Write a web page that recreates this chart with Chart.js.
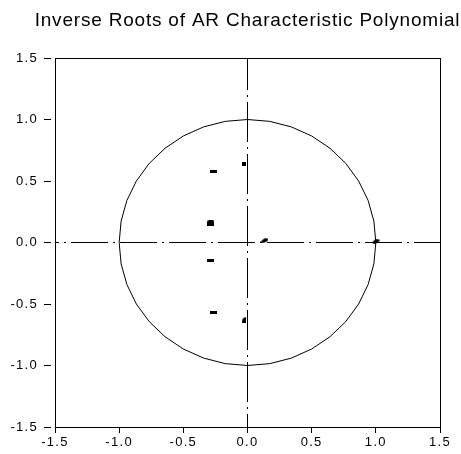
<!DOCTYPE html>
<html>
<head>
<meta charset="utf-8">
<script src="https://cdn.jsdelivr.net/npm/chart.js@4/dist/chart.umd.min.js"></script>
<style>
  html, body { margin: 0; padding: 0; background: #fff; }
  #wrap { width: 461px; height: 454px; }
</style>
</head>
<body>
<div id="wrap"><canvas id="c" width="461" height="454"></canvas></div>
<script>
// Inverse roots (real and imaginary parts)
const rootsRe = [0.999, 0.132, -0.031, -0.031, -0.265, -0.265, -0.285, -0.285];
const rootsIm = [0.010, 0.016, 0.640, -0.630, 0.575, -0.572, 0.162, -0.150];
const markerKind = ['arrow', 'arrow', 'dot', 'half', 'bar', 'bar', 'dome', 'bar'];

// Axis ticks
const axisMin = -1.5;
const axisMax = 1.5;
const tickStep = 0.5;

const titleText = 'Inverse Roots of AR Characteristic Polynomial';

// Unit circle reference, drawn as a polygon
const circleStepDeg = 10;
const unitCircle = [];
for (let a = 0; a <= 360; a += circleStepDeg) {
  const r = a * Math.PI / 180;
  unitCircle.push({ x: Math.cos(r), y: Math.sin(r) });
}

// Small marker glyphs
function glyph(w, h, paint) {
  const cv = document.createElement('canvas');
  cv.width = w; cv.height = h;
  const g = cv.getContext('2d');
  g.fillStyle = '#000';
  paint(g);
  return cv;
}
const glyphs = {
  bar: glyph(7, 3, g => g.fillRect(0, 0, 7, 3)),
  dot: glyph(4, 4, g => g.fillRect(0, 0, 4, 4)),
  dome: glyph(7, 6, g => {
    g.beginPath(); g.arc(3.5, 3, 3.5, Math.PI, 0); g.fill();
    g.fillRect(0, 3, 7, 3);
  }),
  arrow: glyph(8, 5, g => {
    g.beginPath();
    g.moveTo(0, 4); g.lineTo(3, 1); g.lineTo(5, 0); g.lineTo(8, 1);
    g.lineTo(7, 3); g.lineTo(3, 5); g.closePath(); g.fill();
  }),
  half: glyph(4, 6, g => {
    g.beginPath();
    g.moveTo(0, 6); g.lineTo(0.5, 3); g.lineTo(2, 1); g.lineTo(4, 0);
    g.lineTo(4, 6); g.closePath(); g.fill();
  })
};

const rootPoints = rootsRe.map((re, i) => ({ x: re, y: rootsIm[i] }));

const tickFont = { family: '"Liberation Sans", Arial, sans-serif', size: 13 };

const framePlugin = {
  id: 'frame',
  beforeDraw(chart) {
    chart.ctx.letterSpacing = '1.3px';
  },
  beforeDatasetsDraw(chart) {
    chart.ctx.letterSpacing = '0px';
  },
  afterDraw(chart) {
    const { ctx, chartArea: a } = chart;
    ctx.save();
    ctx.strokeStyle = '#000';
    ctx.lineWidth = 1;
    const l = Math.floor(a.left) + 0.5, r = Math.floor(a.right) + 0.5;
    const t = Math.floor(a.top) + 0.5, b = Math.floor(a.bottom) + 0.5;
    ctx.strokeRect(l, t, r - l, b - t);
    // title
    ctx.letterSpacing = '0.8px';
    ctx.fillStyle = '#000';
    ctx.font = '19px "Liberation Sans", Arial, sans-serif';
    ctx.textAlign = 'center';
    ctx.textBaseline = 'alphabetic';
    ctx.fillText(titleText, (a.left + a.right) / 2, 26);
    ctx.restore();
  }
};

new Chart(document.getElementById('c'), {
  type: 'scatter',
  data: {
    datasets: [
      {
        label: 'roots',
        data: rootPoints,
        pointStyle: markerKind.map(k => glyphs[k]),
        pointRadius: 4,
        showLine: false
      },
      {
        label: 'circle',
        data: unitCircle,
        showLine: true,
        borderColor: '#000',
        borderWidth: 1,
        pointRadius: 0,
        tension: 0
      },
      {
        label: 'real axis',
        data: [{ x: axisMin, y: 0 }, { x: axisMax, y: 0 }],
        showLine: true,
        borderColor: '#000',
        borderWidth: 1,
        borderDash: [37, 5, 2, 5],
        borderDashOffset: 33,
        pointRadius: 0
      },
      {
        label: 'imaginary axis',
        data: [{ x: 0, y: axisMax }, { x: 0, y: axisMin }],
        showLine: true,
        borderColor: '#000',
        borderWidth: 1,
        borderDash: [40, 5, 2, 5],
        borderDashOffset: 8,
        pointRadius: 0
      }
    ]
  },
  options: {
    responsive: false,
    animation: false,
    devicePixelRatio: 1,
    layout: { padding: { top: 58, right: 21, left: 0, bottom: 0 } },
    plugins: {
      legend: { display: false },
      tooltip: { enabled: false },
      title: { display: false }
    },
    scales: {
      x: {
        type: 'linear',
        min: axisMin, max: axisMax,
        afterFit(s) { s.height = 27; },
        ticks: {
          stepSize: tickStep,
          color: '#000',
          font: tickFont,
          padding: 2,
          maxRotation: 0,
          autoSkip: false,
          callback: v => v.toFixed(1)
        },
        grid: {
          drawOnChartArea: false,
          drawTicks: true,
          tickLength: 6,
          tickColor: '#000',
          tickWidth: 1
        },
        border: { display: true, color: '#000', width: 1 }
      },
      y: {
        type: 'linear',
        min: axisMin, max: axisMax,
        afterFit(s) { s.width = 55; },
        ticks: {
          stepSize: tickStep,
          color: '#000',
          font: tickFont,
          padding: 6,
          callback: v => v.toFixed(1)
        },
        grid: {
          drawOnChartArea: false,
          drawTicks: true,
          tickLength: 11,
          tickColor: '#000',
          tickWidth: 1,
          tickBorderDash: [7, 20]
        },
        border: { display: true, color: '#000', width: 1 }
      }
    }
  },
  plugins: [framePlugin]
});
</script>
</body>
</html>
